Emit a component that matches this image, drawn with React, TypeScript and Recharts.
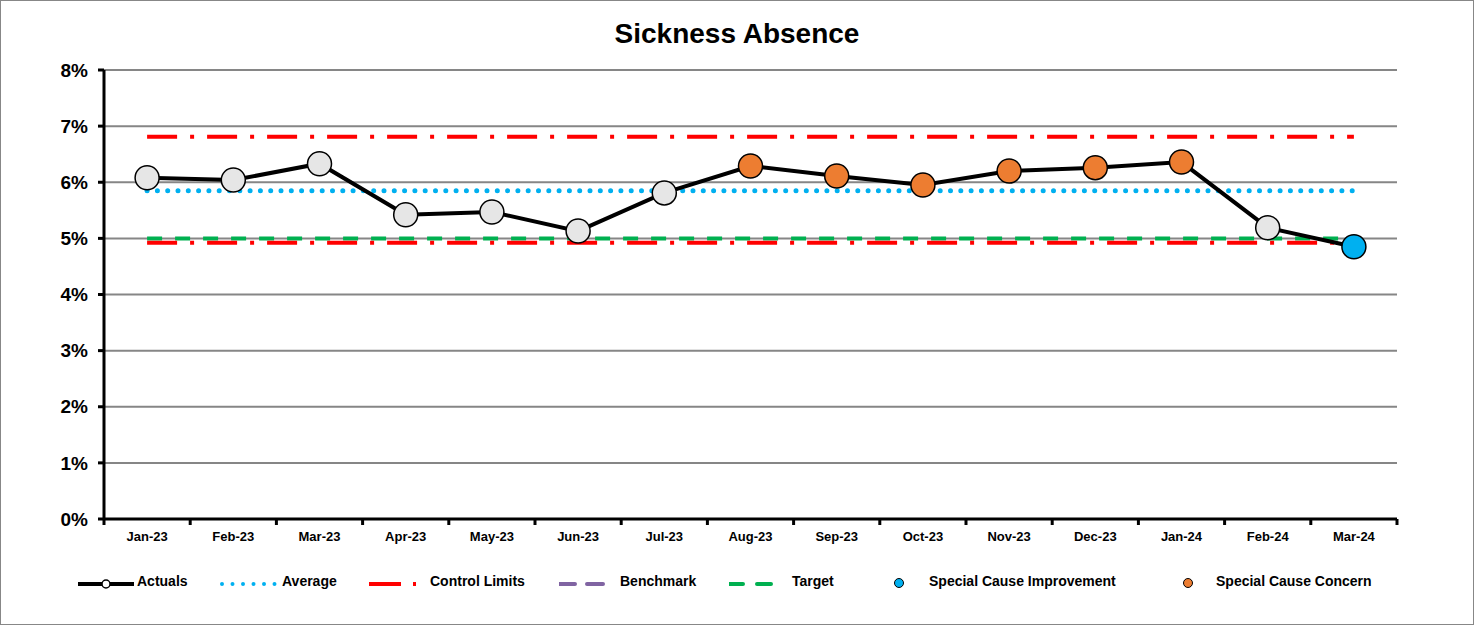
import { LineChart, Line, XAxis, YAxis, CartesianGrid } from 'recharts'

const months = ['Jan-23', 'Feb-23', 'Mar-23', 'Apr-23', 'May-23', 'Jun-23', 'Jul-23', 'Aug-23', 'Sep-23', 'Oct-23', 'Nov-23', 'Dec-23', 'Jan-24', 'Feb-24', 'Mar-24']
const actuals = [0.0608, 0.0604, 0.0633, 0.0542, 0.0547, 0.0513, 0.0581, 0.0629, 0.0611, 0.0595, 0.062, 0.0626, 0.0636, 0.0519, 0.0485]
const status = ['n', 'n', 'n', 'n', 'n', 'n', 'n', 'c', 'c', 'c', 'c', 'c', 'c', 'n', 'i']
const averageValue = 0.0585
const upperLimit = 0.0681
const lowerLimit = 0.0492
const targetValue = 0.05
const yTicks = [0, 0.01, 0.02, 0.03, 0.04, 0.05, 0.06, 0.07, 0.08]

const data = months.map((m, i) => ({
  month: m,
  actual: actuals[i],
  status: status[i],
  average: averageValue,
  ucl: upperLimit,
  lcl: lowerLimit,
  target: targetValue,
}))

const FONT = '"Liberation Sans", Arial, sans-serif'
const W = 1474
const H = 625
const M = { top: 70, right: 77, bottom: 76, left: 0 }
const Y_W = 104
const BAND = (W - M.right - Y_W) / months.length

const dotColor: Record<string, string> = { n: '#e6e6e6', c: '#ed7d31', i: '#00b0f0' }

function ActualDot(props: any) {
  const { cx, cy, payload, index } = props
  if (cx == null || cy == null) return null
  return <circle key={index} cx={cx} cy={cy} r={12} fill={dotColor[payload.status]} stroke="#000" strokeWidth={1.5} />
}

function MonthTick(props: any) {
  const { x, y, payload, index } = props
  return (
    <g>
      <line x1={x - BAND / 2} x2={x - BAND / 2} y1={y - 8} y2={y - 2} stroke="#000" strokeWidth={3} />
      {index === months.length - 1 && <line x1={x + BAND / 2} x2={x + BAND / 2} y1={y - 8} y2={y - 2} stroke="#000" strokeWidth={3} />}
      <text x={x} y={y + 14} textAnchor="middle" fontFamily={FONT} fontSize={13} fontWeight={700} fill="#000">{payload.value}</text>
    </g>
  )
}

const legendItems = [
  { label: 'Actuals', iconX: 78, textX: 137, kind: 'actual' },
  { label: 'Average', iconX: 220, textX: 282, kind: 'avg' },
  { label: 'Control Limits', iconX: 369, textX: 430, kind: 'cl' },
  { label: 'Benchmark', iconX: 559, textX: 620, kind: 'bench' },
  { label: 'Target', iconX: 729, textX: 792, kind: 'target' },
  { label: 'Special Cause Improvement', iconX: 893, textX: 929, kind: 'imp' },
  { label: 'Special Cause Concern', iconX: 1182, textX: 1216, kind: 'con' },
]

function LegendIcon({ kind }: { kind: string }) {
  if (kind === 'actual') return (
    <svg width={58} height={12}><line x1={0} x2={56} y1={6} y2={6} stroke="#000" strokeWidth={4} /><circle cx={28} cy={6} r={4} fill="#fff" stroke="#000" strokeWidth={1.5} /></svg>
  )
  if (kind === 'avg') return (
    <svg width={58} height={12}><line x1={2} x2={56} y1={6} y2={6} stroke="#00b0f0" strokeWidth={4} strokeDasharray="0 10.5" strokeLinecap="round" /></svg>
  )
  if (kind === 'cl') return (
    <svg width={58} height={12}><line x1={0} x2={48} y1={6} y2={6} stroke="#ff0000" strokeWidth={4} strokeDasharray="32 12 3 20" /></svg>
  )
  if (kind === 'bench') return (
    <svg width={58} height={12}><line x1={0} x2={46} y1={6} y2={6} stroke="#8064a2" strokeWidth={4} strokeDasharray="16 12" strokeLinecap="round" /></svg>
  )
  if (kind === 'target') return (
    <svg width={58} height={12}><line x1={0} x2={46} y1={6} y2={6} stroke="#00b050" strokeWidth={4} strokeDasharray="14 14" strokeLinecap="round" /></svg>
  )
  const fill = kind === 'imp' ? '#00b0f0' : '#ed7d31'
  return <svg width={14} height={14}><circle cx={6} cy={7} r={4.5} fill={fill} stroke="#000" strokeWidth={1} /></svg>
}

export default function App() {
  return (
    <div style={{ position: 'absolute', left: 0, top: 0, width: W, height: H, background: '#fff', fontFamily: FONT }}>
      <div style={{ position: 'absolute', left: 0, top: 0, width: W - 2, height: H - 2, border: '1px solid #878787' }} />
      <div style={{ position: 'absolute', left: 0, width: W, top: 18, textAlign: 'center', fontSize: 28, fontWeight: 700, color: '#000' }}>
        Sickness Absence
      </div>
      <LineChart width={W} height={H} data={data} margin={M} style={{ position: 'absolute', left: 0, top: 0 }}>
        <CartesianGrid vertical={false} stroke="#868686" strokeWidth={2} />
        <XAxis
          dataKey="month"
          interval={0}
          padding={{ left: BAND / 2, right: BAND / 2 }}
          tickLine={false}
          axisLine={{ stroke: '#000', strokeWidth: 3 }}
          height={30}
          tick={<MonthTick />}
        />
        <YAxis
          domain={[0, 0.08]}
          ticks={yTicks}
          width={Y_W}
          tickFormatter={(v: number) => `${Math.round(v * 100)}%`}
          tick={{ fontFamily: FONT, fontSize: 19, fontWeight: 700, fill: '#000' }}
          tickSize={6}
          tickMargin={10}
          tickLine={{ stroke: '#000', strokeWidth: 3 }}
          axisLine={{ stroke: '#000', strokeWidth: 3 }}
        />
        <Line dataKey="target" stroke="#00b050" strokeWidth={4} strokeDasharray="15 13" dot={false} isAnimationActive={false} />
        <Line dataKey="ucl" stroke="#ff0000" strokeWidth={4} strokeDasharray="30 13 4 13" dot={false} isAnimationActive={false} />
        <Line dataKey="lcl" stroke="#ff0000" strokeWidth={4} strokeDasharray="30 13 4 13" dot={false} isAnimationActive={false} />
        <Line dataKey="average" stroke="#00b0f0" strokeWidth={5} strokeDasharray="0 10.3" strokeLinecap="round" dot={false} isAnimationActive={false} />
        <Line dataKey="actual" stroke="#000" strokeWidth={4} dot={<ActualDot />} activeDot={false} isAnimationActive={false} />
      </LineChart>
      {legendItems.map((it) => (
        <div key={it.label}>
          <div style={{ position: 'absolute', left: it.iconX, top: 576 }}>
            <LegendIcon kind={it.kind} />
          </div>
          <div style={{ position: 'absolute', left: it.textX, top: 573, fontSize: 14, fontWeight: 700, color: '#000', whiteSpace: 'nowrap' }}>
            {it.label}
          </div>
        </div>
      ))}
    </div>
  )
}
